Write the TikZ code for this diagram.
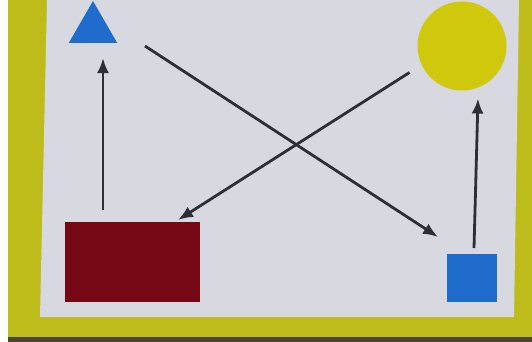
\documentclass[tikz,border=0pt]{standalone}
\definecolor{boardyellow}{RGB}{190,188,26}
\definecolor{boarddark}{RGB}{72,72,48}
\definecolor{papergray}{RGB}{216,216,224}
\definecolor{cardblue}{RGB}{32,108,204}
\definecolor{cardyellow}{RGB}{208,200,12}
\definecolor{cardred}{RGB}{118,8,22}
\definecolor{inkgray}{RGB}{44,48,52}
\usepackage{tikz}
\usetikzlibrary{arrows.meta, positioning, shapes.geometric, calc}

\begin{document}
\begin{tikzpicture}[
  x=1pt, y=-1pt,
  card/.style={draw=none, inner sep=0pt, outer sep=0pt},
  link/.style={draw=inkgray, line width=2.8pt, -{Latex[length=15pt, width=12pt]}},
]
  % board, paper
  \useasboundingbox (0,0) rectangle (532,342);
  \fill[white] (0,0) rectangle (532,342);
  \fill[boardyellow] (8,0) rectangle (532,337);
  \fill[boarddark] (8,337) rectangle (532,342);
  \fill[papergray] (47,0) -- (519,0) -- (514,317) -- (40,317) -- cycle;

  % cards
  \node[card, regular polygon, regular polygon sides=3, minimum size=56pt, fill=cardblue] (tri) at (93,29) {};
  \node[card, circle, minimum size=89pt, fill=cardyellow] (sun) at (462,46) {};
  \node[card, rectangle, minimum width=135pt, minimum height=80pt, fill=cardred] (block) at (132.5,262) {};
  \node[card, rectangle, minimum width=50pt, minimum height=48pt, fill=cardblue] (tile) at (472,278) {};

  % arrows
  \draw[link] ($(block.north west)+(38,-12)$) -- ($(tri.south)+(10,15)$);
  \draw[link] ($(tri.south)+(52,3)$) -- ($(tile.north west)+(-9,-17)$);
  \draw[link] ($(sun.south west)+(-21,-5)$) -- ($(block.north west)+(113,-2)$);
  \draw[link] ($(tile.north)+(2,-6)$) -- ($(sun.south)+(16,8)$);
\end{tikzpicture}
\end{document}
